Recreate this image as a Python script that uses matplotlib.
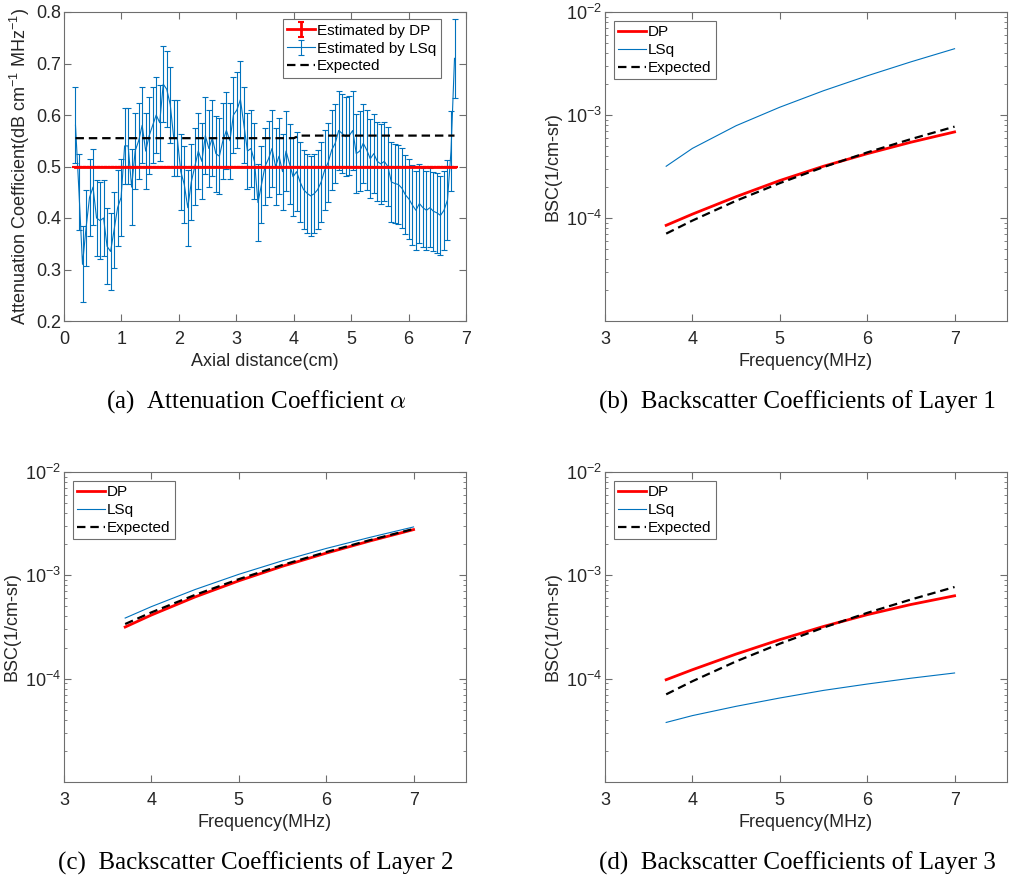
import numpy as np
import matplotlib
matplotlib.use("Agg")
import matplotlib.pyplot as plt
from matplotlib.ticker import LogLocator, NullFormatter

plt.rcParams["font.family"] = ["Liberation Sans", "DejaVu Sans"]
plt.rcParams["mathtext.fontset"] = "cm"

# attenuation estimates along depth
lsq_alpha = [
    0.58, 0.45, 0.31, 0.38, 0.44, 0.46, 0.40, 0.395, 0.40, 0.345,
    0.335, 0.377, 0.42, 0.44, 0.54, 0.54, 0.46, 0.53, 0.55, 0.58,
    0.53, 0.56, 0.58, 0.60, 0.585, 0.66, 0.65, 0.62, 0.555, 0.555,
    0.49, 0.465, 0.42, 0.47, 0.50, 0.53, 0.51, 0.56, 0.535, 0.555,
    0.525, 0.52, 0.55, 0.57, 0.55, 0.60, 0.61, 0.63, 0.58, 0.53,
    0.535, 0.51, 0.43, 0.465, 0.50, 0.515, 0.535, 0.50, 0.52, 0.49,
    0.53, 0.505, 0.48, 0.49, 0.47, 0.455, 0.448, 0.443, 0.447, 0.455,
    0.47, 0.493, 0.508, 0.532, 0.545, 0.57, 0.564, 0.558, 0.56, 0.57,
    0.525, 0.53, 0.545, 0.532, 0.515, 0.525, 0.51, 0.505, 0.51, 0.50,
    0.47, 0.467, 0.465, 0.458, 0.445, 0.437, 0.425, 0.415, 0.428, 0.42,
    0.415, 0.42, 0.413, 0.41, 0.405, 0.415, 0.435, 0.53, 0.71,
]
lsq_err = [0.074] * 60 + [0.077] * 49
dp_alpha = 0.5
expected_x = [0.2, 4.0, 4.1, 6.8]
expected_alpha = [0.555, 0.555, 0.56, 0.56]

# backscatter coefficients (1/cm-sr)
freq = [3.7, 4.0, 4.5, 5.0, 5.5, 6.0, 6.5, 7.0]
bsc_expected = [7.05e-5, 9.44e-5, 1.47e-4, 2.18e-4, 3.12e-4, 4.33e-4, 5.83e-4, 7.71e-4]
bsc1_dp = [8.49e-5, 1.09e-4, 1.61e-4, 2.31e-4, 3.18e-4, 4.21e-4, 5.44e-4, 6.85e-4]
bsc1_lsq = [3.18e-4, 4.74e-4, 7.87e-4, 1.19e-3, 1.72e-3, 2.40e-3, 3.28e-3, 4.40e-3]
bsc2_expected = [3.38e-4, 4.38e-4, 6.47e-4, 9.18e-4, 1.26e-3, 1.68e-3, 2.19e-3, 2.81e-3]
bsc2_dp = [3.16e-4, 4.13e-4, 6.18e-4, 8.85e-4, 1.225e-3, 1.64e-3, 2.15e-3, 2.77e-3]
bsc2_lsq = [3.86e-4, 4.98e-4, 7.29e-4, 1.023e-3, 1.384e-3, 1.82e-3, 2.33e-3, 2.94e-3]
bsc3_dp = [9.77e-5, 1.22e-4, 1.73e-4, 2.385e-4, 3.2e-4, 4.16e-4, 5.22e-4, 6.34e-4]
bsc3_lsq = [3.77e-5, 4.39e-5, 5.4e-5, 6.5e-5, 7.7e-5, 8.87e-5, 1.01e-4, 1.135e-4]

RED = "#FF0000"
BLUE = "#0072BD"
AXC = "#6e6e6e"
TXT = "#262626"
DASH = (0, (3.8, 2.2))

W, H = 1011, 881
fig = plt.figure(figsize=(W / 100, H / 100), dpi=100)


def add_axes(left, top, right, bottom):
    return fig.add_axes([left / W, 1 - bottom / H, (right - left) / W, (bottom - top) / H])


def style(ax):
    for s in ax.spines.values():
        s.set_color(AXC)
        s.set_linewidth(0.8)
    ax.tick_params(which="both", direction="in", top=True, right=True,
                   colors=AXC, labelcolor=TXT, labelsize=13)
    ax.tick_params(which="major", length=5)
    ax.tick_params(which="minor", length=2.5)
    ax.tick_params(axis="x", pad=7)
    ax.tick_params(axis="y", pad=2)


def legend(ax, handles, anchor, loc):
    leg = ax.legend(handles=handles, loc=loc, bbox_to_anchor=anchor, fontsize=11,
                    fancybox=False, edgecolor=AXC, framealpha=1, borderaxespad=0,
                    handlelength=1.8, handletextpad=0.15, borderpad=0.3,
                    labelspacing=0.25)
    leg.get_frame().set_linewidth(0.8)
    return leg


# (a) attenuation coefficient
ax = add_axes(64, 12, 466, 321)
x = np.linspace(0.2, 6.8, len(lsq_alpha))
h_dp = ax.errorbar(x, np.full(len(x), dp_alpha), yerr=np.zeros(len(x)), color=RED, lw=2,
                   elinewidth=2, capsize=2, capthick=1.5, label="Estimated by DP", zorder=3)
h_lsq = ax.errorbar(x, lsq_alpha, yerr=lsq_err, color=BLUE, lw=0.8, elinewidth=0.8,
                    capsize=2.2, capthick=0.8, label="Estimated by LSq", zorder=2)
h_exp, = ax.plot(expected_x, expected_alpha, color="k", lw=1.6, linestyle=DASH,
                 label="Expected", zorder=4)
ax.set_xlim(0, 7)
ax.set_ylim(0.2, 0.8)
ax.set_xticks(range(0, 8))
ax.set_yticks(np.arange(0.2, 0.81, 0.1))
ax.set_yticklabels([f"{v:.1f}" for v in np.arange(0.2, 0.81, 0.1)])
style(ax)
ax.set_xlabel("Axial distance(cm)", fontsize=13, color=TXT, labelpad=4)
ax.set_ylabel(r"Attenuation Coefficient(dB cm$\mathregular{^{-1}}$ MHz$\mathregular{^{-1}}$)",
              fontsize=13, color=TXT, labelpad=3)
legend(ax, [h_dp, h_lsq, h_exp], (0.938, 0.977), "upper right")

# (b)-(d) backscatter coefficients
panels = [
    ((605, 12, 1007, 321), bsc1_dp, bsc1_lsq, bsc_expected),
    ((64, 472, 466, 782), bsc2_dp, bsc2_lsq, bsc2_expected),
    ((605, 472, 1007, 782), bsc3_dp, bsc3_lsq, bsc_expected),
]
for box, dp, lsq, exp in panels:
    ax = add_axes(*box)
    l1, = ax.plot(freq, dp, color=RED, lw=2, label="DP", zorder=3)
    l2, = ax.plot(freq, lsq, color=BLUE, lw=0.8, label="LSq", zorder=2)
    l3, = ax.plot(freq, exp, color="k", lw=1.6, linestyle=DASH, label="Expected", zorder=4)
    ax.set_yscale("log")
    ax.set_xlim(3, 7.6)
    ax.set_ylim(1e-5, 1e-2)
    ax.set_xticks(range(3, 8))
    ax.set_yticks([1e-4, 1e-3, 1e-2])
    ax.yaxis.set_minor_locator(LogLocator(base=10, subs=np.arange(2, 10)))
    ax.yaxis.set_minor_formatter(NullFormatter())
    style(ax)
    ax.set_xlabel("Frequency(MHz)", fontsize=13, color=TXT, labelpad=4)
    ax.set_ylabel("BSC(1/cm-sr)", fontsize=13, color=TXT, labelpad=3)
    legend(ax, [l1, l2, l3], (0.022, 0.972), "upper left")

# sub-figure captions
captions = [
    (256, 402, r"(a)  Attenuation Coefficient $\alpha$"),
    (797, 402, "(b)  Backscatter Coefficients of Layer 1"),
    (256, 863, "(c)  Backscatter Coefficients of Layer 2"),
    (797, 863, "(d)  Backscatter Coefficients of Layer 3"),
]
for cx, cy, txt in captions:
    fig.text(cx / W, 1 - cy / H, txt, ha="center", va="center", fontsize=18,
             family=["Liberation Serif", "DejaVu Serif"], color="k")

fig.savefig("out.png", dpi=100)
